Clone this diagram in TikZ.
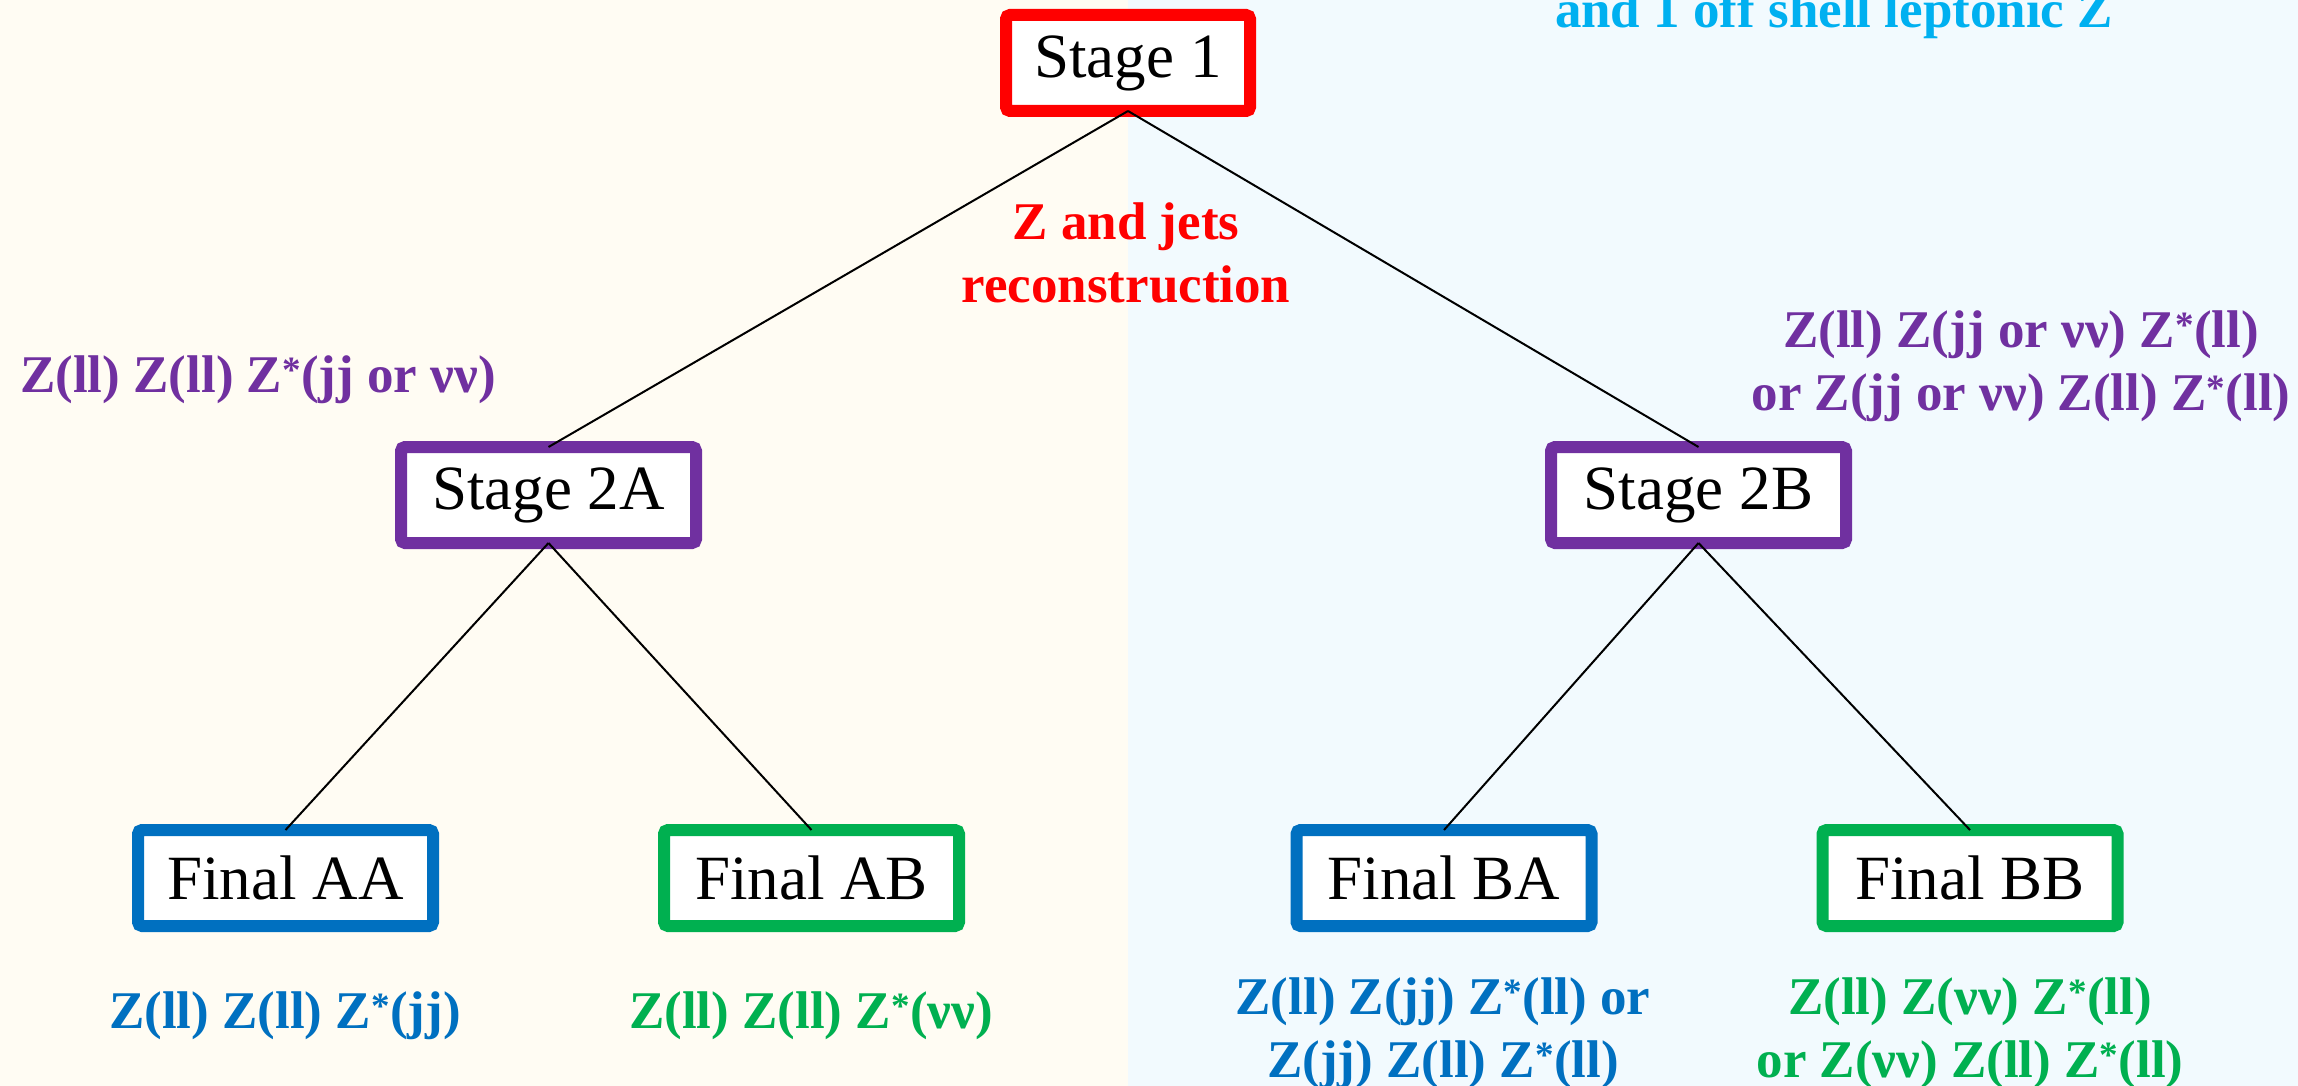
\documentclass[tikz,border=0pt]{standalone}
\usepackage{fontspec}
\setmainfont{Liberation Serif}
\definecolor{cream}{RGB}{255,252,243}
\definecolor{paleblue}{RGB}{242,250,254}
\definecolor{stpurple}{RGB}{112,48,160}
\definecolor{stblue}{RGB}{0,112,192}
\definecolor{stgreen}{RGB}{0,176,80}
\definecolor{stred}{RGB}{255,0,0}
\definecolor{stcyan}{RGB}{0,176,240}
\tikzset{
  box/.style={draw, line width=12pt, fill=white, rounded corners=4pt,
    minimum width=295pt, minimum height=96pt, inner sep=0pt, outer sep=0pt,
    font=\fontsize{63}{75}\selectfont},
  conn/.style={draw=black, line width=2pt},
  lbl/.style={font=\bfseries\fontsize{53}{63}\selectfont, align=center, inner sep=0pt, anchor=base},
}
\begin{document}
\begin{tikzpicture}[x=1pt,y=-1pt]
\useasboundingbox (0,0) rectangle (2298,1086);
\fill[cream] (0,0) rectangle (1128,1086);
\fill[paleblue] (1128,0) rectangle (2298,1086);
\begin{scope}
\clip (0,0) rectangle (2298,1086);
\node[lbl, text=stcyan] (offshell) at (1834,28) {and 1 off shell leptonic Z};
\end{scope}

\node[box, draw=stred, minimum width=244pt] (s1) at (1128,63) {Stage 1};
\node[box, draw=stpurple] (s2a) at (548.5,495) {Stage 2A};
\node[box, draw=stpurple] (s2b) at (1698.5,495) {Stage 2B};
\node[box, draw=stblue] (faa) at (285.5,878) {Final AA};
\node[box, draw=stgreen] (fab) at (811.5,878) {Final AB};
\node[box, draw=stblue] (fba) at (1444,878) {Final BA};
\node[box, draw=stgreen] (fbb) at (1970,878) {Final BB};

\draw[conn] (s1.south) -- (s2a.north);
\draw[conn] (s1.south) -- (s2b.north);
\draw[conn] (s2a.south) -- (faa.north);
\draw[conn] (s2a.south) -- (fab.north);
\draw[conn] (s2b.south) -- (fba.north);
\draw[conn] (s2b.south) -- (fbb.north);

\node[lbl, text=stred] (zjets) at (1126,302) {Z and jets\\reconstruction};
\node[lbl, text=stpurple] (l2a) at (258,392) {Z(ll) Z(ll) Z\textsuperscript{*}(jj or νν)};
\node[lbl, text=stpurple] (l2b) at (2021,410) {Z(ll) Z(jj or νν) Z\textsuperscript{*}(ll)\\or Z(jj or νν) Z(ll) Z\textsuperscript{*}(ll)};
\node[lbl, text=stblue] (laa) at (285,1028) {Z(ll) Z(ll) Z\textsuperscript{*}(jj)};
\node[lbl, text=stgreen] (lab) at (811,1028) {Z(ll) Z(ll) Z\textsuperscript{*}(νν)};
\node[lbl, text=stblue] (lba) at (1443,1077) {Z(ll) Z(jj) Z\textsuperscript{*}(ll) or\\Z(jj) Z(ll) Z\textsuperscript{*}(ll)};
\node[lbl, text=stgreen] (lbb) at (1970,1077) {Z(ll) Z(νν) Z\textsuperscript{*}(ll)\\or Z(νν) Z(ll) Z\textsuperscript{*}(ll)};
\end{tikzpicture}
\end{document}
